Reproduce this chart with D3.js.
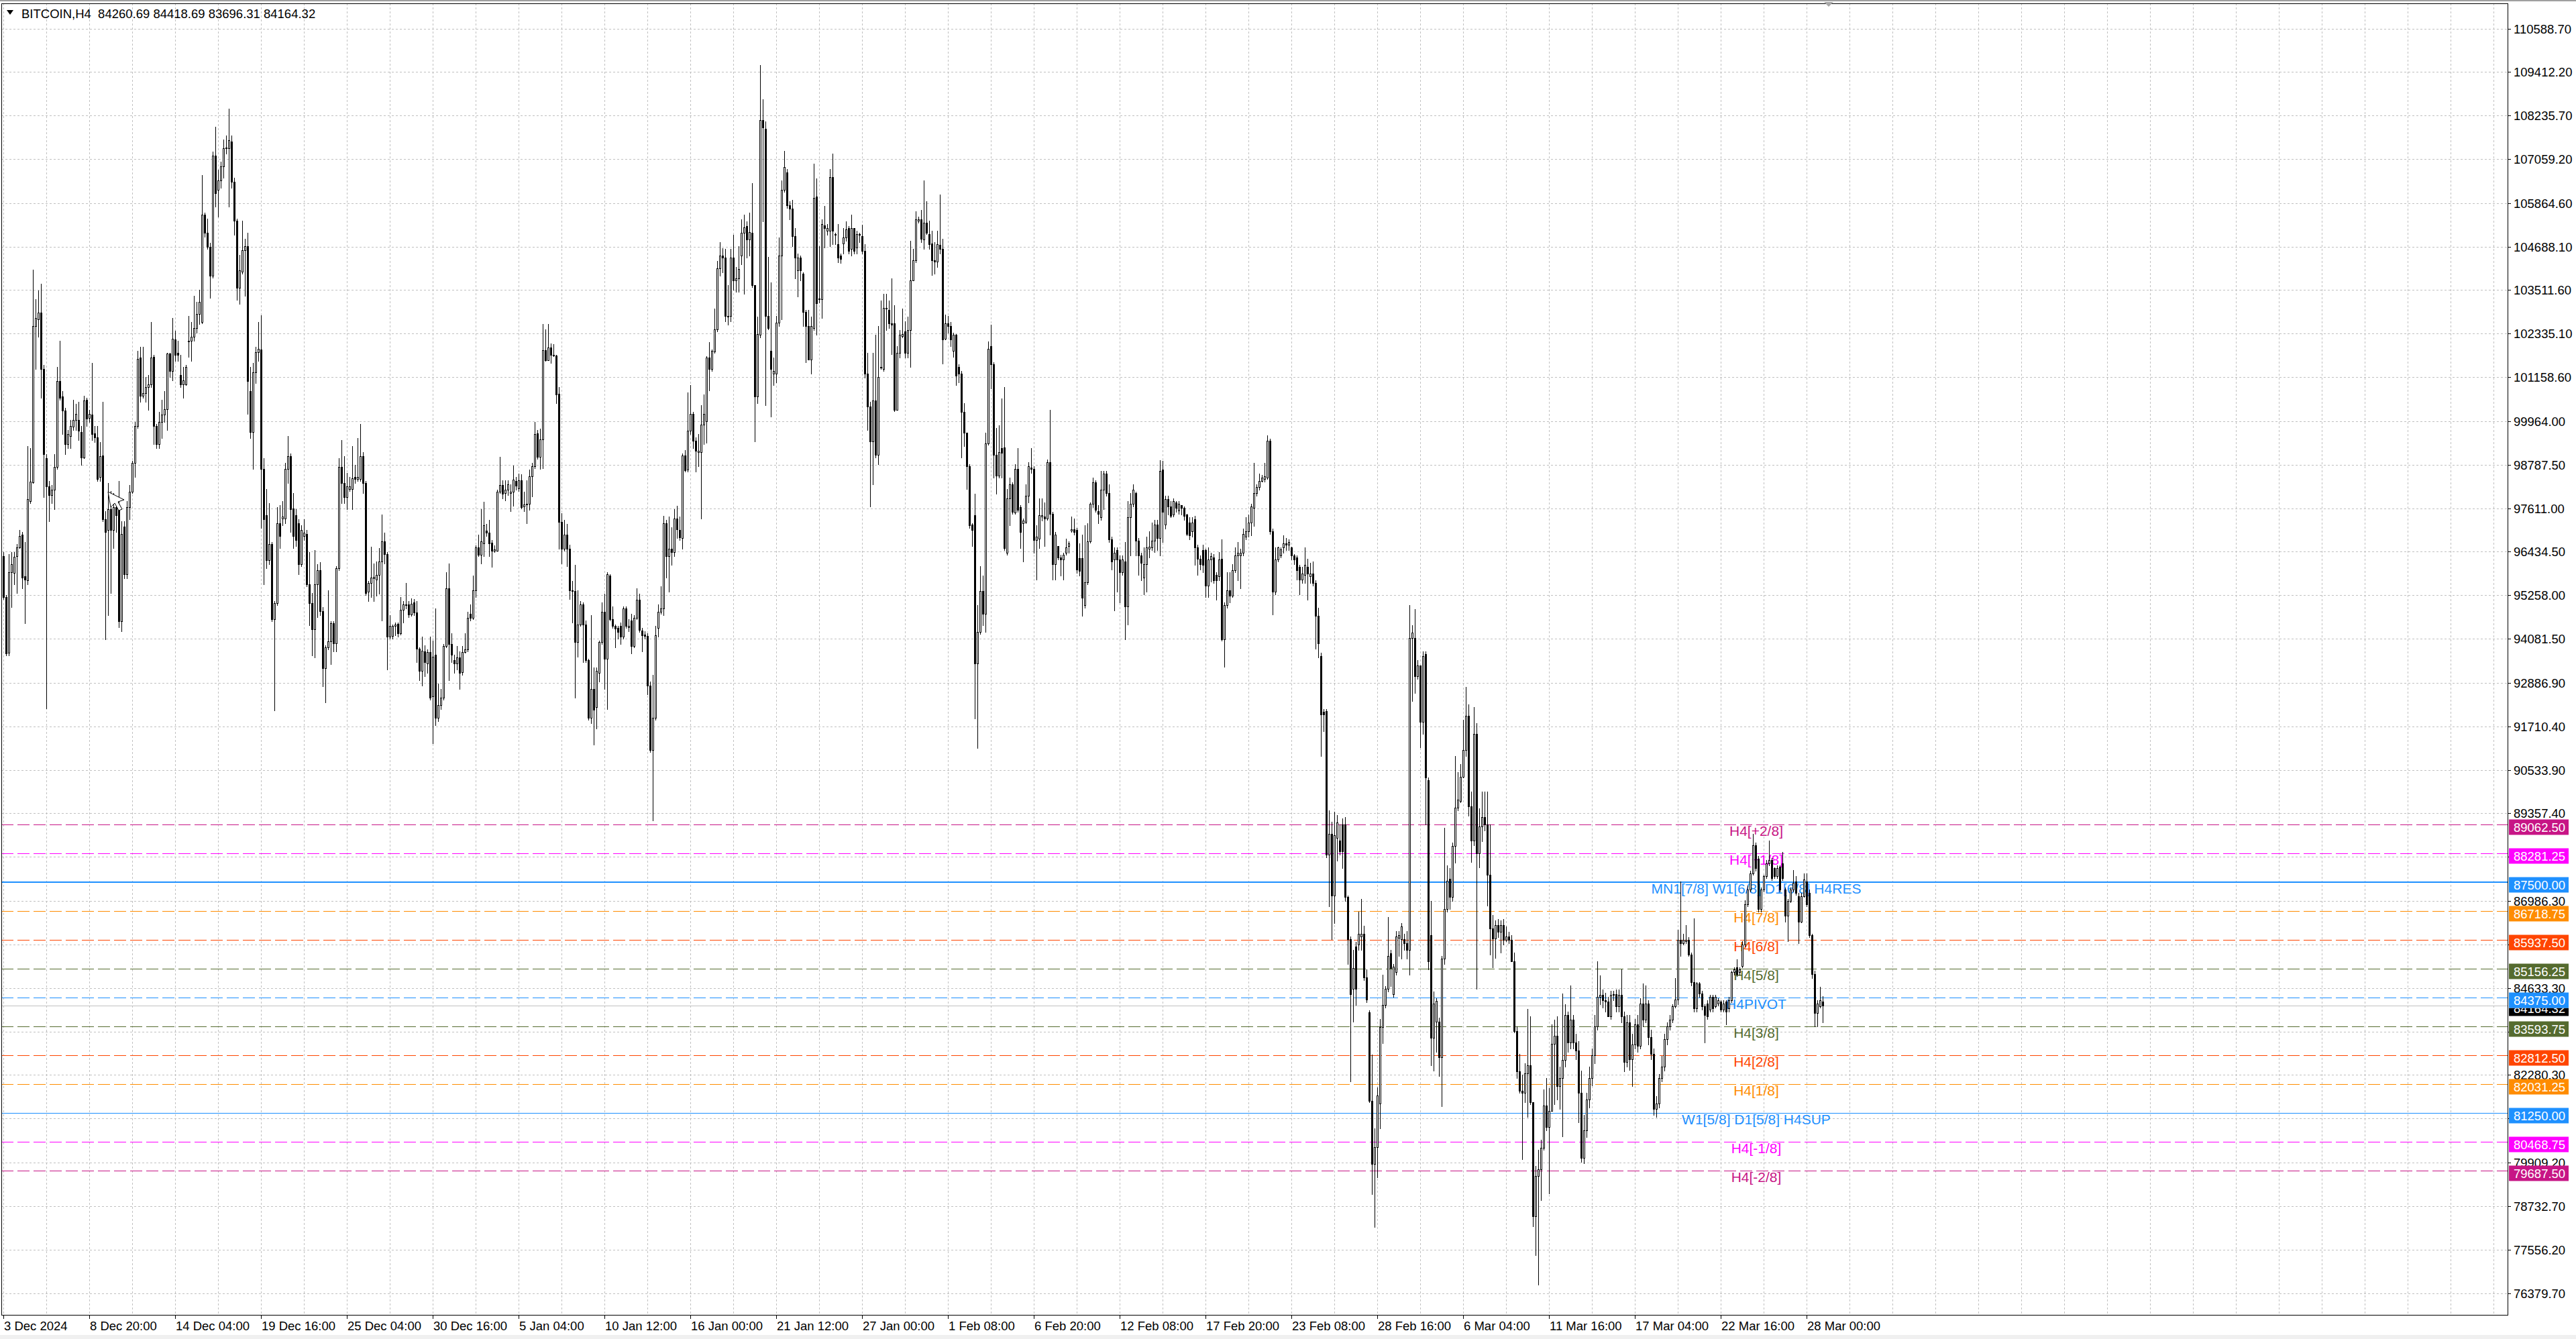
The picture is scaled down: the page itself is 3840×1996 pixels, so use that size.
<!DOCTYPE html>
<html><head><meta charset="utf-8">
<script src="https://cdn.jsdelivr.net/npm/d3@7"></script>
<style>html,body{margin:0;padding:0;background:#fff;overflow:hidden}</style>
</head><body>
<svg id="c" width="3840" height="1996" xmlns="http://www.w3.org/2000/svg"></svg>
<script>
const symbolTitle = "BITCOIN,H4  84260.69 84418.69 83696.31 84164.32";
const lastPrice = 84164.32;

const opens = [
96317,95217,93699,95877,95855,96317,96559,96900,95767,95657,
97802,98319,102532,102730,102895,101377,98957,98209,97967,98110,
98737,101047,100629,100255,99342,99562,99815,100002,100002,99672,
98979,100552,100057,100145,99639,99529,98462,99034,97307,97032,
97582,97032,97637,97637,94557,97109,95822,97637,98055,98847,
99837,101685,100662,100717,100882,100970,101707,99837,99342,99947,
100145,100299,101795,101322,102169,101817,101212,100970,100970,102125,
102147,102257,102477,102862,102642,105557,105062,104677,103907,107152,
106217,106470,106855,107350,107350,107537,106437,105392,103577,104017,
104589,104699,100772,99672,101289,101839,101905,98682,97417,96207,
96647,94612,95052,97197,97329,97329,98682,99012,97604,97417,
97197,96097,96867,96922,95547,95052,94337,95547,95932,94832,
93292,93842,94007,94502,93952,95987,98737,98297,97912,98132,
98132,98462,98407,98407,99012,98297,95346,95590,95716,95687,
95813,96173,96708,96368,94131,94160,94423,94491,94228,94860,
94987,95006,94744,95055,94792,93820,93207,93742,93421,93713,
92526,93645,91943,92283,92478,93888,95444,93936,93499,93421,
93567,93178,93713,93790,94763,94646,95395,96543,96348,96659,
96999,96951,96688,96465,96465,98050,98245,98021,98118,98021,
98050,98342,98147,98361,97661,97710,97729,98478,98750,99645,
98993,99480,101882,101619,101959,101765,101746,100715,97243,96514,
96902,96514,95395,95376,93985,94471,95006,94471,93499,91943,
92721,92235,93159,93985,94812,93548,95784,94617,94423,94374,
94423,94131,94909,94393,94568,93888,94646,95132,94296,94199,
94160,92818,91068,91943,94374,94812,94909,97214,96319,96514,
96416,97340,97019,96805,99042,98653,99703,100160,99431,99120,
99120,99869,99966,101687,101376,101842,102446,104100,104450,104387,
102816,102816,104387,103773,103834,104448,105061,105245,104877,105061,
103650,100644,102301,108104,107883,102816,101871,101258,101258,102632,
104448,106227,106693,105798,105712,104975,104043,104387,103957,102914,
102546,101626,102485,106043,103258,103258,105270,105123,105123,106571,
105000,104755,104448,104779,104939,105184,104632,105184,104656,105025,
104975,104571,101258,100362,99417,100521,99049,101417,101380,103012,
102976,102608,102608,100276,101810,102276,102399,101810,102423,103773,
104325,105393,105430,104877,105344,105025,104779,104325,104288,104730,
104632,102203,102608,102546,101871,102301,101442,101258,100215,99662,
98742,97172,97417,93405,94264,95368,94755,99356,101994,101503,
99049,98497,99233,99258,96411,97883,98252,97491,98681,97638,
97209,97245,97945,98718,98681,96755,96779,97392,97392,97331,
98865,97454,96104,96595,96288,96227,96411,96595,96999,97049,
97025,96264,96264,94999,95614,96718,97736,98313,97540,97363,
98104,98549,98030,96771,96222,96474,96222,95881,96178,94948,
97363,97734,98030,96726,96326,95733,96104,96519,96548,96726,
97171,96815,98653,97171,97853,97660,97437,97763,97556,97704,
97615,97437,97215,96993,97319,96548,96252,96474,96474,95511,
96222,96281,95807,95778,96252,94058,94992,95392,95244,95926,
96326,96326,96400,96845,96993,97215,97615,98030,98178,98356,
98401,98445,99438,96993,95363,96222,96326,96548,96667,96622,
96548,96326,96281,96030,95689,95807,96030,95778,95837,95585,
94696,93614,92102,92132,88249,88812,87138,88694,88620,89064,
89064,87093,85952,84618,85759,85804,86026,86100,84915,83981,
81580,79876,80321,81506,83580,84174,84618,85581,84470,85063,
85996,85952,85952,85848,85655,94103,94103,93066,93362,91836,
93658,90250,86056,83284,83729,83729,82766,85433,86767,87582,
87093,88471,89508,89701,90353,91064,92000,89544,88620,91500,
88268,89000,89250,89060,87696,86244,85980,86332,86156,86332,
85936,86024,85936,85364,83472,82372,81844,81800,82328,82548,
81536,78456,79556,79732,80304,81448,80876,81316,83120,83340,
81976,82200,82680,83912,83164,83780,83164,82944,81800,80040,
80790,81624,82196,82812,83604,84396,84444,84308,84264,83868,
84440,84460,84132,84440,83868,82636,83700,82700,83100,83650,
83076,84220,83780,84220,83300,82856,81360,81500,82200,82500,
83250,83600,83780,84140,84316,85936,85848,85892,85936,85540,
84792,84088,84748,84484,84132,84220,84044,84396,84132,84220,
84264,84044,84264,84088,84308,85056,85188,85056,85232,85804,
86904,87300,87740,88488,88136,86772,87300,87652,88004,88092,
87872,87652,87916,88004,87300,86596,86992,87300,87520,87124,
86420,87124,87520,87212,86068,85012,83956,84132,84260.69
];
const highs = [
96427,95270,96372,96427,96427,96647,97032,96977,96702,99287,
99232,104072,103269,103500,103687,101487,99067,98352,98242,99067,
101432,102147,100772,100332,99727,100002,100552,100442,100497,99837,
100662,100607,100277,101542,99837,99837,99397,100497,97527,98297,
98077,98022,97747,98352,97252,97252,97802,98242,98902,99947,
101872,101982,101982,101157,101212,102642,101762,99892,100222,100552,
100772,101817,101817,102752,102422,102147,101762,101432,101487,102807,
102642,103357,103192,103522,106624,105612,105447,104787,107262,107922,
106767,106987,107592,107702,108417,107702,106547,105447,104457,105392,
104897,105062,101432,101542,101982,102642,102829,98957,98132,97747,
96702,95107,97637,97692,97802,98847,99562,99100,98022,97582,
97307,97142,97307,97032,96427,95327,96482,96097,96152,94942,
93897,95382,94557,94557,96042,98957,99452,99012,98572,98462,
99287,98792,99507,99892,99122,98352,95638,96562,96124,96173,
96533,97437,96951,96416,94714,94471,94520,94520,95201,95103,
95590,95103,95171,95152,95103,93839,94131,93907,93791,94131,
94034,94909,92867,92721,93937,95881,96124,94228,93645,93888,
93742,93888,94228,94812,95006,95784,96611,96903,97583,97778,
97194,97291,96757,96611,98118,98993,98361,98361,98361,98264,
98770,98459,98556,98536,98050,98361,98653,98847,99937,99723,
99771,102592,102446,102592,102076,102057,101765,100890,97486,97291,
97194,96630,95638,96076,95395,95103,95055,94568,93548,94715,
93305,93305,94034,95055,95298,95881,95833,94957,94471,94423,
94520,94957,94957,94617,94763,94714,95444,95298,94374,94277,
94228,92915,93110,94423,95006,95492,97408,97291,97389,97097,
97583,97681,97389,99091,99188,100744,100938,100209,99528,99625,
100403,100695,101716,102105,101911,103010,104300,104800,104650,104632,
103650,104632,105000,104141,104693,105430,105552,105368,105614,106411,
103650,102792,109601,108681,108068,104411,103712,101687,102816,104939,
106472,107270,106779,105920,105957,105184,104509,104448,103994,102976,
102976,102792,106939,106534,104693,105430,105797,105307,106779,107209,
105061,105307,104509,105184,105368,105245,105552,105184,105123,105061,
105282,104755,101810,100485,101810,102301,102546,103221,103405,103405,
103221,103834,103098,101994,102423,103012,102669,102792,104853,104632,
105638,105491,105675,106472,105920,105393,105123,104816,105123,106104,
104902,102853,102816,102644,102362,102325,101503,101319,100460,99662,
98804,97209,98006,95000,96043,95798,99662,102117,102571,101564,
99785,99847,100583,100890,98129,98436,98313,98804,99233,97699,
97331,98252,98865,99233,98742,97147,97883,97883,97761,98926,
100276,97515,96963,96595,96349,96411,96779,96718,97392,97331,
97086,96656,96902,97147,97209,97761,98436,98374,97699,98623,
98623,98623,98253,96845,96548,96548,96326,96326,96697,97808,
98030,98253,98060,96815,96400,96548,96845,96993,97215,97289,
97289,98919,98890,97956,97956,97808,97882,97808,97808,97704,
97660,97467,97363,97363,97408,96622,96326,96622,96519,96548,
96400,96370,95881,96430,96771,95066,95881,95881,96104,96548,
96697,96519,97067,97363,97437,97734,98845,98253,98549,98504,
98845,99586,99483,97067,96548,96578,96548,96874,96815,96771,
96578,96370,96326,96074,96030,96548,96252,96133,96178,95659,
94918,93703,92176,92176,89435,89138,89405,89316,89064,89212,
89257,87138,86026,85655,85878,86693,87034,86322,85137,84026,
82840,80839,81950,83803,84989,84692,86545,85655,85285,86174,
86174,86397,86100,86174,94992,94444,94888,93510,93362,93733,
93733,90324,86989,84544,84366,83833,85507,88960,87955,87879,
88575,90917,90472,90694,91880,92770,92300,89940,92240,91800,
89500,89940,89940,89940,89060,86600,86464,86500,86464,86500,
86300,86156,86068,85584,83600,82856,82284,82592,84062,83868,
81536,79820,80260,80524,81888,82196,81932,83648,83780,83868,
82500,84484,84200,84000,84700,83900,83400,83200,82400,81200,
81800,82500,83000,83900,85364,84968,84600,84500,84400,84550,
84550,84600,84600,85144,84000,83900,83900,83400,83800,83900,
84350,84760,84700,84300,83500,83000,81700,82300,82800,83400,
83700,83900,84200,84900,86200,87520,86100,86332,86000,85600,
86508,84800,84800,84550,84200,84300,84450,84450,84450,84350,
84300,84300,84300,84400,85100,85200,85408,85200,85900,87000,
87400,87800,88796,88576,88200,87350,87700,88100,88620,88150,
87900,87950,87950,88312,87350,87050,87350,87828,87652,87200,
87200,87740,87740,87300,86100,85100,84300,84660,84418.69
];
const lows = [
95162,93622,93622,94942,95547,95327,96537,95437,94502,95547,
97747,98297,101377,102257,100607,97912,92192,97252,97747,97582,
98682,100552,99617,99067,99232,99232,99727,99727,99452,98792,
98957,99837,99947,99452,99397,98352,98352,97252,94062,94722,
95327,96537,96977,94392,94282,95712,95712,97307,98022,98462,
99782,100497,100607,100497,100277,100882,99342,99232,99232,99507,
99947,99727,101157,101069,101597,101597,100882,100607,100937,101707,
101597,102147,102367,102587,102609,104952,104622,103302,103852,105777,
105502,106272,106547,107207,105777,106272,105007,103247,103137,103962,
103357,100167,99507,98682,100992,101597,97087,95547,95987,96097,
94557,92137,94997,96537,97142,97197,98297,96977,96537,96592,
95822,96042,96757,95492,94447,93622,93567,94667,94722,92797,
92357,93787,93402,93732,93732,95932,97747,97747,97582,98077,
97582,98297,98352,98352,98022,95272,95103,95201,95103,95249,
95298,94568,96124,93256,94082,94082,94180,94131,94200,94520,
94909,94666,94700,94714,93450,92964,92818,93061,93159,92429,
91262,91748,91845,92186,92429,93839,92964,93450,93159,93256,
92721,93110,93694,93742,94568,94617,95201,96319,96124,96319,
96854,96319,96027,96416,96465,98021,97875,97827,97972,97535,
97681,98118,98069,97603,97535,97214,97564,97924,98702,98945,
98672,98702,101590,101619,101551,101716,100452,96514,96124,96465,
96047,95152,94520,92478,93596,94423,93450,93450,91894,91797,
91213,91651,92915,93937,92721,92186,94568,94374,93839,94082,
93937,94082,94374,94277,93693,93839,94617,94257,93742,94082,
92575,91019,89171,91894,94131,94763,94714,95736,95346,96076,
96319,96805,96757,96514,98605,98605,99625,99237,98605,98750,
97340,99353,99382,100792,101327,101813,102400,103900,104000,102669,
102571,102669,103528,103466,103466,104202,103405,104387,104448,103589,
99417,100460,102239,105368,100399,102448,100092,100951,101012,102546,
102730,106166,105736,105430,104693,103834,103343,103773,102546,101564,
101626,101258,102423,102301,103184,102755,104656,105000,104693,104755,
104755,104264,104239,104509,104853,104509,104448,104509,104509,104816,
104509,101135,99724,97662,98252,98988,98804,101380,101319,102423,
102485,101773,100239,100276,101687,102239,101687,101687,101442,103773,
104264,105344,104816,104632,105025,104632,103920,103957,104141,104509,
101528,102178,102362,101994,101712,100951,101012,98988,99294,98129,
97086,96595,91932,91135,94202,94448,94264,99331,100853,98436,
98006,98436,98436,96472,96349,97147,97454,97454,97515,96534,
96166,97209,97761,98558,96411,95675,96534,97270,96595,97294,
96902,95675,95675,96227,95797,95675,96349,96411,96963,96902,
95858,95797,94693,94914,95552,96681,97638,97515,97209,97289,
97586,97956,96696,95955,94844,95363,95066,95807,94058,94473,
96326,97660,96326,95807,95659,95289,95363,96281,96474,96430,
96474,96326,96697,97067,97437,97363,97393,97512,97467,97437,
97289,96874,96771,96845,96074,95807,95955,95881,95215,95215,
95630,95585,95140,95659,94029,93317,94918,95066,95215,95881,
95659,95437,96326,96771,96845,96874,97141,97956,98104,98327,
98327,98401,96919,94740,95289,96178,96281,96400,96474,96474,
96222,96104,95689,95289,95585,95585,95140,95585,95511,93807,
93584,90917,91584,88175,86841,85952,86397,88071,88249,87879,
86989,85285,82099,83729,84174,85655,85655,84841,84248,81550,
79061,78171,79505,80839,83136,84100,84544,84692,84396,84989,
85507,85433,85655,85433,84989,92399,92621,92991,91139,91510,
89064,85137,82544,82395,82914,82247,81432,85285,86693,86767,
86989,88027,89435,89657,90324,90900,89300,88048,88500,84616,
87900,88600,88900,86860,85540,85190,85450,86000,85584,85800,
85900,85848,85364,83428,82196,81800,79996,81536,81140,81492,
78192,77400,76608,78896,80260,80788,79072,81316,81492,81624,
81360,80612,82500,82900,83000,83000,82700,81000,79930,79900,
80600,81400,82000,82600,83500,84200,84100,84000,83868,83800,
84300,84000,84000,83700,82372,82500,82416,81976,83000,82900,
83000,83600,83700,83100,82700,81200,81140,81400,82100,82400,
83100,83500,83700,84100,84200,85500,85800,85850,85500,84700,
84000,84000,84400,84050,83164,83800,84000,84000,84100,84150,
84000,84000,83648,84000,84250,85000,84950,85000,85200,85750,
86850,87250,87700,87800,86700,86700,87250,87600,87950,87550,
87600,87600,87250,87550,86420,85892,86950,87250,87150,85848,
86400,87100,86850,86000,84900,83600,83600,84100,83696.31
];
const closes = [
95217,93677,95877,96097,96295,96559,96867,95734,95679,97857,
98330,102532,102752,102895,101377,99067,98209,97967,98110,98737,
101047,100607,100255,99342,99617,99837,100002,100167,99705,98979,
100530,100035,100167,99617,99529,98407,99012,97307,96977,97582,
97032,97637,97417,94557,96922,95822,97637,98055,98847,99837,
101652,100662,100717,100882,100970,101685,99837,99342,99947,100145,
100299,101795,101322,102202,101762,101762,100970,101069,101432,102147,
102257,102477,102862,103192,105557,105062,104677,103907,107152,106140,
106470,106855,107350,107372,107570,106437,105392,103577,104039,104589,
104699,101047,99672,101289,101839,101927,98682,97307,96207,96647,
94612,95052,97197,96867,97395,98682,99012,97582,96867,96757,
96097,97032,96944,95547,95052,94337,95547,95932,94832,93292,
93842,94007,94502,93952,95987,98737,98297,97912,98209,98209,
98429,98407,98462,99012,98297,95327,95590,95736,95755,95813,
96173,96708,96368,94131,94423,94423,94471,94228,94860,95006,
95006,94744,95035,94783,93820,93207,93761,93450,93713,92478,
93596,91943,92283,92478,93888,95444,93936,93645,93421,93567,
93159,93713,93790,94646,94646,95395,96543,96348,96708,97146,
96951,96659,96465,96494,98050,98245,98001,98118,98264,98050,
98381,98215,98361,97632,97710,97729,98478,98750,99625,98993,
99480,101882,101619,101959,101765,101746,100695,97243,96514,96902,
96514,95395,95376,93985,94471,95006,94471,93499,91943,92721,
92157,93207,93985,94812,93548,95833,94617,94423,94355,94257,
94131,94909,94423,94423,93888,94646,95132,94326,94180,94160,
92818,91068,91943,94180,94812,94909,97214,96319,96514,96416,
97340,97048,96825,99042,98634,99703,100160,99431,99159,99159,
99869,100160,101687,101376,101862,102446,104100,104450,104387,102816,
102791,104387,103773,103834,104080,105061,105209,104877,105086,103650,
100644,102325,108104,107920,102816,102485,101380,101319,102632,104448,
106227,106840,105798,105712,104975,104387,104387,104043,102914,102546,
101626,102546,106006,103160,103282,105307,105184,105184,106571,105123,
105025,104387,104362,104939,105147,104571,105184,104571,105025,105000,
104571,101258,100362,99417,100521,99049,101160,101442,103037,103037,
102608,102571,100276,101810,102301,102325,101810,102423,103773,104325,
105430,105417,104902,105344,105061,104755,104325,104288,104755,104632,
102178,102608,102546,102178,102301,101196,101258,100215,99662,98742,
97147,97025,93405,94264,95368,94755,99356,101932,101503,99049,
98497,99135,99110,96534,97883,98252,97515,98681,97577,96963,
97270,97945,98742,98681,96755,96840,97417,97417,97331,98865,
97454,96104,96902,96288,96227,96349,96558,96656,97049,96963,
95945,95920,95184,95614,96718,97736,98313,97577,97454,98104,
98549,98030,96771,96178,96400,96222,95881,96222,94948,97363,
97734,98104,96726,96326,96133,96104,96548,96578,96726,97171,
96815,98623,97512,97853,97660,97408,97808,97615,97734,97615,
97408,96919,96874,97215,96548,96252,96104,96074,95511,96222,
96311,95659,95659,96222,94058,94992,95392,95244,95926,96326,
96400,96400,96919,96993,97215,97660,98030,98178,98356,98445,
98475,99438,96993,95363,96222,96548,96504,96667,96622,96697,
96326,96222,95926,95689,95837,96074,95837,95837,95585,94696,
93955,92028,92028,88249,88812,87138,88768,89108,88323,88323,
87093,85952,84470,85166,84618,86100,86100,84915,84322,81580,
79876,80321,81728,83580,84174,84618,85507,85166,85211,86026,
86056,86293,85848,85655,94103,94251,93066,93362,91836,93614,
90324,85359,83284,84218,84277,82766,85433,86767,87538,87093,
88471,89508,89731,90353,91064,92000,89544,88620,91500,88268,
89000,89250,89060,87696,86244,85980,86332,86156,86332,85936,
86024,85936,85364,83472,82372,81844,81800,82328,82548,81536,
78456,79556,79732,80304,81448,80876,81316,83120,83340,81976,
82200,82680,83912,83164,83780,83164,82944,81800,80040,80790,
81624,82196,82812,83604,84396,84444,84308,84264,83868,84440,
84460,84132,84440,83868,82636,83700,82700,83100,83650,83076,
84220,83780,84220,83300,82856,81360,81500,82200,82500,83250,
83600,83780,84140,84316,85936,85848,85936,85936,85540,84792,
84088,84748,84484,84132,83912,83868,84396,84088,84396,84308,
84044,84220,84000,84308,85056,85144,85012,85144,85804,86904,
87300,87740,88488,87872,86772,87300,87652,88004,88092,87608,
87652,87872,87300,87608,86596,86992,87300,87476,87212,86420,
87124,87564,86904,86068,85012,83956,84220,84308,84164.32
];

const priceTicks = [110588.70,109412.20,108235.70,107059.20,105864.60,104688.10,103511.60,102335.10,101158.60,99964.00,
  98787.50,97611.00,96434.50,95258.00,94081.50,92886.90,91710.40,90533.90,89357.40,88180.90,
  86986.30,85809.80,84633.30,83456.80,82280.30,81103.80,79909.20,78732.70,77556.20,76379.70];

const timeLabels = ["3 Dec 2024","8 Dec 20:00","14 Dec 04:00","19 Dec 16:00","25 Dec 04:00","30 Dec 16:00",
  "5 Jan 04:00","10 Jan 12:00","16 Jan 00:00","21 Jan 12:00","27 Jan 00:00","1 Feb 08:00","6 Feb 20:00",
  "12 Feb 08:00","17 Feb 20:00","23 Feb 08:00","28 Feb 16:00","6 Mar 04:00","11 Mar 16:00","17 Mar 04:00",
  "22 Mar 16:00","28 Mar 00:00"];

const levelNames = ["H4[+2/8]","H4[+1/8]","MN1[7/8] W1[6/8] D1[6/8] H4RES","H4[7/8]","H4[6/8]","H4[5/8]","H4PIVOT",
  "H4[3/8]","H4[2/8]","H4[1/8]","W1[5/8] D1[5/8] H4SUP","H4[-1/8]","H4[-2/8]"];
const levelPrices = [89062.50,88281.25,87500.00,86718.75,85937.50,85156.25,84375.00,83593.75,82812.50,82031.25,81250.00,80468.75,79687.50];

// styling (not data)
const levelColors = ["#C71585","#FF00FF","#1E90FF","#FF8C00","#FF4500","#556B2F","#1E90FF","#556B2F","#FF4500","#FF8C00","#1E90FF","#FF00FF","#C71585"];
const levelSolid  = [false,false,true,false,false,false,false,false,false,false,true,false,false];
const levelWidth  = [1,1,2,1,1,1,1,1,1,1,1,1,1];

const W = 3840, H = 1996, L = 2, R = 3738, T = 5, B = 1960;
const FONT = "'Liberation Sans', Arial, sans-serif";
const svg = d3.select('#c');

const y = d3.scaleLinear().domain([76379.7, 110588.7]).range([1927.6, 42.5]);
const x = d3.scaleLinear().domain([0, 1]).range([5, 9]);
const py = v => Math.round(y(v));
const px = i => Math.round(x(i));

svg.append('rect').attr('width', W).attr('height', H).attr('fill', '#ffffff');
svg.append('rect').attr('x', 0).attr('y', 0).attr('width', W).attr('height', 2).attr('fill', '#a0a0a0');
svg.append('rect').attr('x', 0).attr('y', 1990).attr('width', W).attr('height', 6).attr('fill', '#f0f0f0');

const defs = svg.append('defs');
defs.append('clipPath').attr('id', 'plot')
  .append('rect').attr('x', L).attr('y', T).attr('width', R - L).attr('height', B - T);
const g = svg.append('g').attr('clip-path', 'url(#plot)');

// grid
g.append('g').selectAll('line').data(priceTicks).join('line')
  .attr('x1', L).attr('x2', R)
  .attr('y1', d => py(d) + 0.5).attr('y2', d => py(d) + 0.5)
  .attr('stroke', '#c0c0c0').attr('stroke-width', 1).attr('stroke-dasharray', '3,3');
const nV = Math.floor((R - x(0)) / (x(16) - x(0)));
g.append('g').selectAll('line').data(d3.range(0, nV + 1).map(k => k * 16)).join('line')
  .attr('x1', d => px(d) + 0.5).attr('x2', d => px(d) + 0.5)
  .attr('y1', T).attr('y2', B)
  .attr('stroke', '#c0c0c0').attr('stroke-width', 1).attr('stroke-dasharray', '3,3');

// level lines
const levels = levelPrices.map((p, i) => ({p, name: levelNames[i], color: levelColors[i], solid: levelSolid[i], w: levelWidth[i]}));
g.append('g').selectAll('line').data(levels).join('line')
  .attr('x1', L).attr('x2', R)
  .attr('y1', d => py(d.p) + (d.w === 1 ? 0.5 : 0)).attr('y2', d => py(d.p) + (d.w === 1 ? 0.5 : 0))
  .attr('stroke', d => d.color).attr('stroke-width', d => d.w)
  .attr('stroke-dasharray', d => d.solid ? null : '18,6');
g.append('line').attr('x1', L).attr('x2', R)
  .attr('y1', py(lastPrice) + 0.5).attr('y2', py(lastPrice) + 0.5)
  .attr('stroke', '#c0c0c0').attr('stroke-width', 1);

// level labels
g.append('g').selectAll('text').data(levels).join('text')
  .attr('x', 2618).attr('y', d => py(d.p) + 17)
  .attr('text-anchor', 'middle').attr('font-family', FONT).attr('font-size', 21)
  .attr('fill', d => d.color).text(d => d.name);

// candles
const n = Math.min(opens.length, highs.length, lows.length, closes.length);
const bars = d3.range(n).map(i => ({i, o: opens[i], h: highs[i], l: lows[i], c: closes[i]}));
const cg = g.append('g');
cg.selectAll('line').data(bars).join('line')
  .attr('x1', d => px(d.i) + 0.5).attr('x2', d => px(d.i) + 0.5)
  .attr('y1', d => py(Math.max(d.h, d.o, d.c))).attr('y2', d => py(Math.min(d.l, d.o, d.c)) + 1)
  .attr('stroke', '#000').attr('stroke-width', 1);
cg.selectAll('rect').data(bars).join('rect')
  .attr('x', d => px(d.i) - 0.5).attr('width', 2)
  .attr('y', d => py(Math.max(d.o, d.c)) + 0.5)
  .attr('height', d => Math.max(0, py(Math.min(d.o, d.c)) - py(Math.max(d.o, d.c))))
  .attr('fill', d => d.c >= d.o ? '#ffffff' : '#000000')
  .attr('stroke', '#000').attr('stroke-width', 1);

// mouse cursor artifact
const cursorPts = [[161,733],[185,745],[176,748],[182,759],[177,761],[171,750],[165,756]];
svg.append('polygon').attr('points', cursorPts.map(p => p.join(',')).join(' '))
  .attr('fill', '#fff').attr('stroke', '#000').attr('stroke-width', 1);

// frame
svg.append('rect').attr('x', L + 0.5).attr('y', T + 0.5).attr('width', R - L).attr('height', B - T)
  .attr('fill', 'none').attr('stroke', '#000').attr('stroke-width', 1);
svg.append('polygon').attr('points', '2719,3 2733,3 2726,10').attr('fill', '#a8a8a8');

// right price axis
const boxCenter = p => py(p) + 4;
const levelBoxes = levels.map(d => ({p: d.p, color: d.color}));
const allBoxes = [{p: lastPrice, color: '#000000'}].concat(levelBoxes);
const visibleTicks = priceTicks.filter(t => !allBoxes.some(b => Math.abs(py(t) - boxCenter(b.p)) < 12));
svg.append('g').selectAll('line').data(priceTicks).join('line')
  .attr('x1', R).attr('x2', R + 5).attr('y1', d => py(d) + 0.5).attr('y2', d => py(d) + 0.5)
  .attr('stroke', '#000');
svg.append('g').selectAll('text').data(visibleTicks).join('text')
  .attr('x', 3747).attr('y', d => py(d) + 6.5)
  .attr('font-family', FONT).attr('font-size', 18.5).attr('fill', '#000')
  .text(d => d.toFixed(2));

// current-price label: mostly hidden under the pivot label, only its lower strip shows
const pivotBox = levelBoxes.reduce((a, b) => Math.abs(b.p - lastPrice) < Math.abs(a.p - lastPrice) ? b : a);
const lpTop = boxCenter(pivotBox.p) + 11.5;
defs.append('clipPath').attr('id', 'lpclip')
  .append('rect').attr('x', 3738).attr('y', lpTop).attr('width', 102).attr('height', 40);
const lp = svg.append('g').attr('clip-path', 'url(#lpclip)');
lp.append('rect').attr('x', 3740).attr('y', boxCenter(lastPrice) - 11.5).attr('width', 89).attr('height', 23).attr('fill', '#000');
lp.append('text').attr('x', 3747).attr('y', boxCenter(lastPrice) + 6.5)
  .attr('font-family', FONT).attr('font-size', 18.5).attr('fill', '#ffffff').text(lastPrice.toFixed(2));

const bg = svg.append('g');
levelBoxes.forEach(b => {
  const cy = boxCenter(b.p);
  bg.append('rect').attr('x', 3740).attr('y', cy - 11.5).attr('width', 89).attr('height', 23).attr('fill', b.color);
  bg.append('text').attr('x', 3747).attr('y', cy + 6.5)
    .attr('font-family', FONT).attr('font-size', 18.5).attr('fill', '#ffffff')
    .text(b.p.toFixed(2));
});

// bottom time axis
svg.append('g').selectAll('line').data(timeLabels).join('line')
  .attr('x1', (d, k) => px(k * 32) + 0.5).attr('x2', (d, k) => px(k * 32) + 0.5)
  .attr('y1', B).attr('y2', B + 6).attr('stroke', '#000');
svg.append('g').selectAll('text').data(timeLabels).join('text')
  .attr('x', (d, k) => px(k * 32) + 1).attr('y', 1982.5)
  .attr('font-family', FONT).attr('font-size', 18.5).attr('fill', '#000')
  .text(d => d);

// title
svg.append('polygon').attr('points', '10,15 20,15 15,22').attr('fill', '#000');
svg.append('text').attr('x', 32).attr('y', 26.5)
  .attr('font-family', FONT).attr('font-size', 18.5).attr('fill', '#000')
  .style('white-space', 'pre')
  .text(symbolTitle);
</script>
</body></html>
